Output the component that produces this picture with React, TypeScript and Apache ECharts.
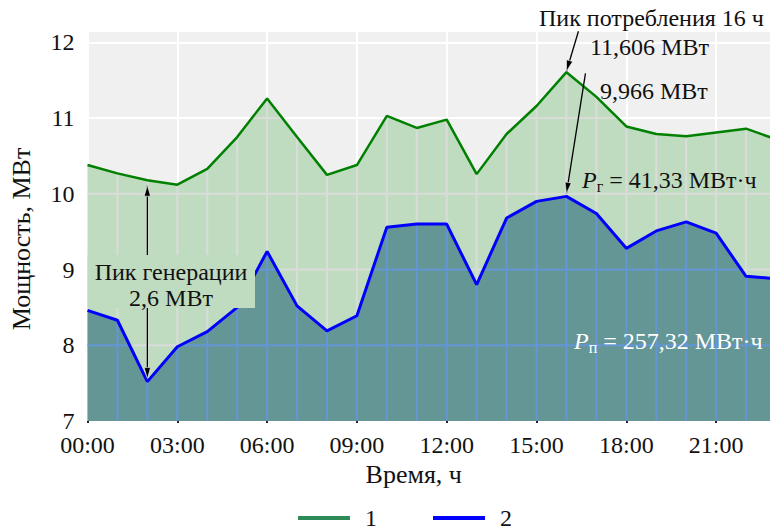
import React, { useEffect, useRef } from 'react';
import * as echarts from 'echarts';

// ---- data ----
const hours = [0, 1, 2, 3, 4, 5, 6, 7, 8, 9, 10, 11, 12, 13, 14, 15, 16, 17, 18, 19, 20, 21, 22, 23];
const consumption = [10.38, 10.27, 10.18, 10.12, 10.33, 10.75, 11.26, 10.75, 10.25, 10.38, 11.03, 10.87,
  10.98, 10.26, 10.79, 11.16, 11.606, 11.28, 10.89, 10.79, 10.76, 10.81, 10.86, 10.72];
const netLoad = [8.46, 8.33, 7.52, 7.98, 8.18, 8.5, 9.24, 8.52, 8.19, 8.39, 9.56, 9.6,
  9.6, 8.8, 9.68, 9.9, 9.966, 9.74, 9.28, 9.51, 9.63, 9.48, 8.91, 8.88];
const xTickLabels = ['00:00', '03:00', '06:00', '09:00', '12:00', '15:00', '18:00', '21:00'];
const xTickHours = [0, 3, 6, 9, 12, 15, 18, 21];
const innerGridLevels = [8, 9, 10, 11];
const seriesNames = ['1', '2'];

const FONT = '"Liberation Serif", "Times New Roman", serif';
const Y_MIN = 7;
const Y_MAX = 12.15;
const FS = 24;
const NAME_FS = 26;

const GRID_BLUE = '#6496d6';
const GRID_GRAY = '#d9dcd9';

export default function App() {
  const ref = useRef<HTMLDivElement>(null);

  useEffect(() => {
    document.body.style.margin = '0';
    if (!ref.current) return;
    const chart = echarts.init(ref.current, undefined, { renderer: 'svg' });

    const consPairs = hours.map((h, i) => [h, consumption[i]]);
    const netPairs = hours.map((h, i) => [h, netLoad[i]]);

    const renderGrid = (params: any, api: any) => {
      const children: any[] = [];
      const seg = (x0: number, y0: number, x1: number, y1: number, color: string) => {
        const a = api.coord([x0, y0]);
        const b = api.coord([x1, y1]);
        children.push({
          type: 'line',
          shape: { x1: a[0], y1: a[1], x2: b[0], y2: b[1] },
          style: { stroke: color, lineWidth: 2 },
        });
      };
      for (let h = 1; h < hours.length - 1; h++) {
        seg(hours[h], Y_MIN, hours[h], netLoad[h], GRID_BLUE);
        seg(hours[h], netLoad[h], hours[h], consumption[h], GRID_GRAY);
      }
      innerGridLevels.forEach((k) => {
        for (let i = 0; i < hours.length - 1; i++) {
          const b0 = netLoad[i], b1 = netLoad[i + 1];
          const g0 = consumption[i], g1 = consumption[i + 1];
          const ts = [0, 1];
          if ((b0 - k) * (b1 - k) < 0) ts.push((k - b0) / (b1 - b0));
          if ((g0 - k) * (g1 - k) < 0) ts.push((k - g0) / (g1 - g0));
          ts.sort((a, b) => a - b);
          for (let j = 0; j < ts.length - 1; j++) {
            const ta = ts[j], tb = ts[j + 1];
            if (tb - ta < 1e-6) continue;
            const tm = (ta + tb) / 2;
            const bm = b0 + (b1 - b0) * tm;
            const gm = g0 + (g1 - g0) * tm;
            const xa = hours[i] + ta * (hours[i + 1] - hours[i]);
            const xb = hours[i] + tb * (hours[i + 1] - hours[i]);
            if (k < bm) seg(xa, k, xb, k, GRID_BLUE);
            else if (k < gm) seg(xa, k, xb, k, GRID_GRAY);
          }
        }
      });
      return { type: 'group', children };
    };

    chart.setOption({
      animation: false,
      textStyle: { fontFamily: FONT },
      grid: {
        left: 87.5, width: 688.5, top: 31, bottom: 109,
        outerBoundsMode: 'none', containLabel: false,
        show: true, backgroundColor: '#f0f0f0', borderWidth: 0,
      },
      legend: {
        left: 293, top: 501,
        icon: 'rect', itemWidth: 52, itemHeight: 4, itemGap: 56,
        textStyle: { fontSize: FS, lineHeight: 24, color: '#111', fontFamily: FONT, padding: [0, 0, 0, 10] },
        data: [
          { name: seriesNames[0], itemStyle: { color: '#2e8b57' } },
          { name: seriesNames[1], itemStyle: { color: '#0000ff' } },
        ],
      },
      xAxis: {
        type: 'value', min: 0, max: 23, interval: 1,
        name: 'Время, ч', nameLocation: 'middle', nameGap: 38,
        nameTextStyle: { fontSize: NAME_FS, color: '#111', fontFamily: FONT, padding: [0, 36, 0, 0] },
        axisLine: { show: false },
        axisTick: { show: true, customValues: xTickHours, length: 2, lineStyle: { color: '#222', width: 2 } },
        axisLabel: {
          fontSize: FS, color: '#111', margin: 12, fontFamily: FONT,
          formatter: (v: number) => {
            const idx = xTickHours.indexOf(v);
            return idx >= 0 ? xTickLabels[idx] : '';
          },
        },
        splitLine: { show: true, lineStyle: { color: '#ffffff', width: 2 } },
      },
      yAxis: {
        type: 'value', min: Y_MIN, max: Y_MAX, interval: 1,
        name: 'Мощность, МВт', nameLocation: 'middle', nameGap: 53, nameRotate: 90,
        nameTextStyle: { fontSize: NAME_FS, color: '#111', fontFamily: FONT, padding: [0, 26, 0, 0] },
        axisLine: { show: false },
        axisTick: { show: false },
        axisLabel: {
          fontSize: FS, color: '#111', margin: 13, fontFamily: FONT, showMaxLabel: false,
          formatter: (v: number) => (Math.abs(v - Math.round(v)) < 1e-6 ? String(Math.round(v)) : ''),
        },
        splitLine: { show: true, lineStyle: { color: '#ffffff', width: 2 } },
      },
      series: [
        {
          name: '1a', type: 'line', data: consPairs, z: 1, symbol: 'none', silent: true,
          lineStyle: { width: 0 }, areaStyle: { color: '#c0dcc0', opacity: 1, origin: 'start' },
        },
        {
          name: '2a', type: 'line', data: netPairs, z: 1, symbol: 'none', silent: true,
          lineStyle: { width: 0 }, areaStyle: { color: '#649696', opacity: 1, origin: 'start' },
        },
        {
          name: 'grid', type: 'custom', z: 2, silent: true, data: [[0, Y_MIN]],
          renderItem: renderGrid,
        },
        {
          name: seriesNames[0], type: 'line', data: consPairs, z: 3, symbol: 'none',
          itemStyle: { color: '#2e8b57' }, lineStyle: { color: '#008000', width: 2.5 },
        },
        {
          name: seriesNames[1], type: 'line', data: netPairs, z: 3, symbol: 'none',
          itemStyle: { color: '#0000ff' }, lineStyle: { color: '#0000ff', width: 3 },
        },
      ],
    });

    // ---- annotations ----
    const px = (x: number, y: number) => chart.convertToPixel({ gridIndex: 0 }, [x, y]) as number[];
    const arrowHead = (from: number[], tip: number[]) => {
      const dx = tip[0] - from[0], dy = tip[1] - from[1];
      const len = Math.hypot(dx, dy) || 1;
      const ux = dx / len, uy = dy / len;
      const L = 11, W = 3.2;
      const bx = tip[0] - ux * L, by = tip[1] - uy * L;
      return {
        type: 'polygon', z: 20,
        shape: { points: [[tip[0], tip[1]], [bx - uy * W, by + ux * W], [bx + uy * W, by - ux * W]] },
        style: { fill: '#000', stroke: '#fff', lineWidth: 0.6 },
      };
    };
    const arrowLine = (a: number[], b: number[], z = 20) => ({
      type: 'line', z,
      shape: { x1: a[0], y1: a[1], x2: b[0], y2: b[1] },
      style: { stroke: '#000', lineWidth: 1.3 },
    });

    const peakIdx = consumption.indexOf(Math.max(...consumption));
    const genIdx = 2;
    const gTop = px(hours[genIdx], consumption[genIdx]);
    const gBot = px(hours[genIdx], netLoad[genIdx]);
    const topTip = [gTop[0], gTop[1] + 5];
    const botTip = [gBot[0], gBot[1] - 3];
    const pc = px(hours[peakIdx], consumption[peakIdx]);
    const pn = px(hours[peakIdx], netLoad[peakIdx]);
    const tip1 = [pc[0], pc[1] - 1];
    const from1 = [tip1[0] + 12, tip1[1] - 40];
    const tip2 = [pn[0], pn[1] - 3];
    const from2 = [tip2[0] + 19, tip2[1] - 120];
    const gridLeft = px(0, Y_MIN)[0];

    const txt = (text: string, x: number, y: number, color = '#111', extra: any = {}) => ({
      type: 'text', z: 30, x, y,
      style: {
        text, fill: color, fontSize: FS, fontFamily: FONT,
        textAlign: 'left', textVerticalAlign: 'middle', ...extra,
      },
    });

    const subRich = (color: string) => ({
      i: { fontStyle: 'italic', fontSize: FS, lineHeight: 28, fontFamily: FONT, color },
      s: { fontSize: 16, lineHeight: 12, verticalAlign: 'bottom', fontFamily: FONT, color },
      n: { fontSize: FS, lineHeight: 28, fontFamily: FONT, color },
    });

    chart.setOption({
      graphic: [
        arrowLine(topTip, botTip, 15),
        arrowHead(botTip, topTip),
        arrowHead(topTip, botTip),
        {
          type: 'rect', z: 18,
          shape: { x: gridLeft, y: 255, width: 255 - gridLeft, height: 53 },
          style: { fill: '#c0dcc0' },
        },
        txt('Пик генерации\n2,6 МВт', 171, 285, '#111', { textAlign: 'center', lineHeight: 26 }),
        arrowLine(from1, tip1),
        arrowHead(from1, tip1),
        arrowLine(from2, tip2),
        arrowHead(from2, tip2),
        txt('Пик потребления 16 ч', 539, 18),
        txt('11,606 МВт', 590, 47),
        txt('9,966 МВт', 600, 91),
        {
          type: 'text', z: 30, x: 582, y: 180,
          style: {
            text: '{i|P}{s|г}{n| = 41,33 МВт·ч}', rich: subRich('#111'),
            textAlign: 'left', textVerticalAlign: 'middle', fill: '#111',
          },
        },
        {
          type: 'text', z: 30, x: 574, y: 341,
          style: {
            text: '{i|P}{s|п}{n| = 257,32 МВт·ч}', rich: subRich('#ffffff'),
            textAlign: 'left', textVerticalAlign: 'middle', fill: '#ffffff',
          },
        },
      ],
    });

    return () => chart.dispose();
  }, []);

  return <div ref={ref} style={{ width: 770, height: 530 }} />;
}
